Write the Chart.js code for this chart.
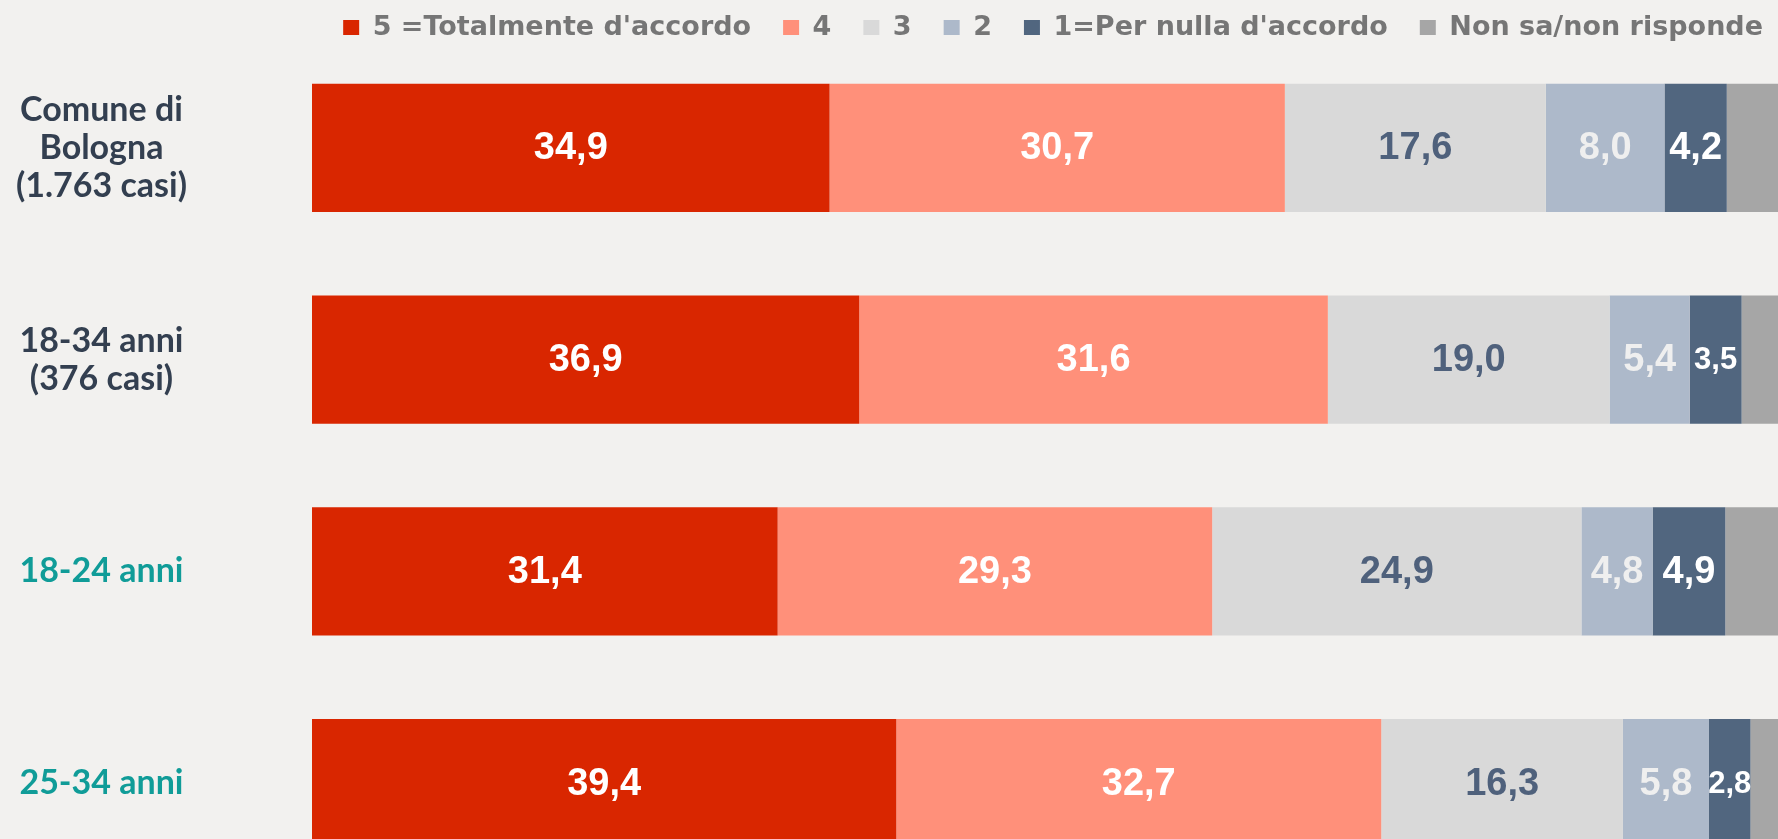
<!DOCTYPE html>
<html>
<head>
<meta charset="utf-8">
<script src="https://cdn.jsdelivr.net/npm/chart.js@4.4.0/dist/chart.umd.min.js"></script>
<style>
  html, body { margin: 0; padding: 0; overflow: hidden; background: #F2F1EF; }
  #wrap { position: absolute; left: 0; top: -21px; }
</style>
</head>
<body>
<div id="wrap"><canvas id="myChart" width="1795" height="910"></canvas></div>
<script>
// categories (y axis)
const groups = [['Comune di', 'Bologna', '(1.763 casi)'], ['18-34 anni', '(376 casi)'], '18-24 anni', '25-34 anni'];
// answer labels (legend)
const answers = ["5 =Totalmente d'accordo", '4', '3', '2', "1=Per nulla d'accordo", 'Non sa/non risponde'];
// percentages per answer, one value per group
const tot5 = [34.9, 36.9, 31.4, 39.4];
const val4 = [30.7, 31.6, 29.3, 32.7];
const val3 = [17.6, 19.0, 24.9, 16.3];
const val2 = [8.0, 5.4, 4.8, 5.8];
const nulla1 = [4.2, 3.5, 4.9, 2.8];
const nonSa = [4.6, 3.6, 4.7, 3.0];

const colors = ['#D92600', '#FF907A', '#D9D9D9', '#ADB9CA', '#51667F', '#A6A6A6'];
const labelColors = ['#FFFFFF', '#FFFFFF', '#4F617C', '#EFEFEF', '#FFFFFF', null];
const series = [tot5, val4, val3, val2, nulla1, nonSa];

const valueLabels = {
    id: 'valueLabels',
    afterDatasetsDraw(chart) {
        const ctx = chart.ctx;
        ctx.save();
        ctx.textAlign = 'center';
        ctx.textBaseline = 'middle';
        chart.data.datasets.forEach((ds, i) => {
            if (!labelColors[i]) return;
            chart.getDatasetMeta(i).data.forEach((bar, j) => {
                const txt = ds.data[j].toFixed(1).replace('.', ',');
                const w = Math.abs(bar.x - bar.base);
                ctx.font = 'bold 38px "Liberation Sans", Arial, sans-serif';
                if (ctx.measureText(txt).width > w - 8) {
                    ctx.font = 'bold 31px "Liberation Sans", Arial, sans-serif';
                }
                ctx.fillStyle = labelColors[i];
                ctx.fillText(txt, (bar.x + bar.base) / 2, bar.y + 1);
            });
        });
        ctx.restore();
    }
};

const ctx = document.getElementById('myChart');
new Chart(ctx, {
    type: 'bar',
    data: {
        labels: groups,
        datasets: series.map((d, i) => ({
            label: answers[i],
            data: d,
            backgroundColor: colors[i],
            borderWidth: 0,
            barPercentage: 0.605,
            categoryPercentage: 1
        }))
    },
    options: {
        indexAxis: 'y',
        responsive: false,
        animation: false,
        layout: { padding: { top: 3, left: 0, right: 0, bottom: 0 } },
        scales: {
            x: {
                stacked: true,
                min: 0,
                max: 100,
                display: false
            },
            y: {
                stacked: true,
                grid: { display: false, drawTicks: false },
                border: { display: false },
                afterFit(scale) {
                    scale.width = 312;
                    scale.paddingTop = 0;
                    scale.paddingBottom = 0;
                },
                ticks: {
                    crossAlign: 'center',
                    padding: 125,
                    color: (c) => c.index < 2 ? '#333F50' : '#109C98',
                    font: { family: 'Lato', weight: 'bold', size: 34, lineHeight: 1.12 }
                }
            }
        },
        plugins: {
            tooltip: { enabled: false },
            legend: {
                position: 'top',
                align: 'end',
                maxHeight: 60,
                labels: {
                    boxWidth: 16,
                    boxHeight: 15,
                    padding: 32,
                    color: '#767676',
                    font: { family: 'DejaVu Sans', weight: 'bold', size: 27 }
                }
            }
        }
    },
    plugins: [valueLabels]
});
</script>
</body>
</html>
